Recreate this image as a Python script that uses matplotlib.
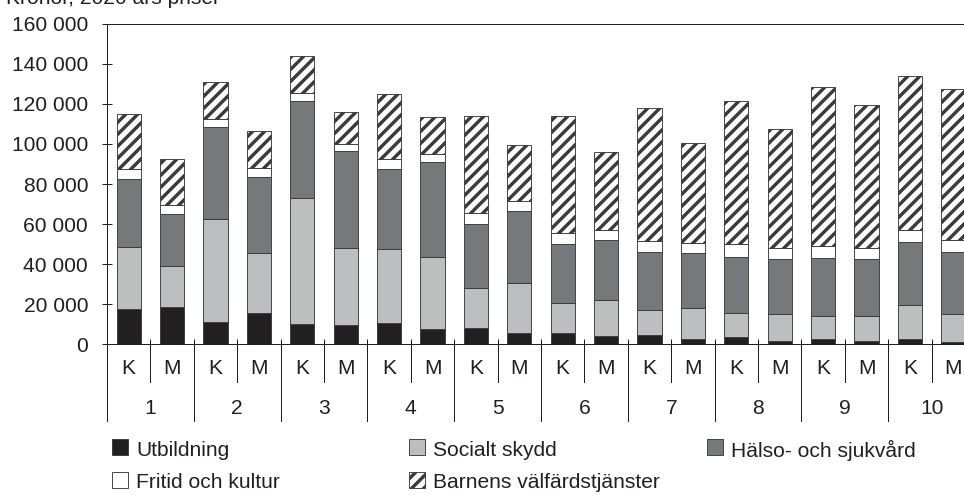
import matplotlib
matplotlib.use("Agg")
import matplotlib.pyplot as plt
from matplotlib.patches import Rectangle
from matplotlib.ticker import FuncFormatter
import matplotlib.transforms as mtransforms
import numpy as np

# values (kronor, 2020 prices)
groups = ["1", "2", "3", "4", "5", "6", "7", "8", "9", "10"]
sexes = ["K", "M"]

utbildning = [17500, 18700, 11200, 15300, 10000, 9700, 10700, 7500, 8200, 5700,
              5500, 4200, 4300, 2500, 3700, 1700, 2500, 1300, 2300, 800]
socialt_skydd = [30800, 20300, 51300, 30000, 62800, 38500, 36600, 36200, 19600, 24600,
                 14800, 17600, 12500, 15300, 11600, 13500, 11700, 12900, 17000, 14200]
halso_sjukvard = [34400, 26200, 45800, 38400, 48500, 48300, 40000, 47300, 32400, 36200,
                  29900, 30000, 29000, 27500, 28400, 27100, 28600, 28100, 31900, 31000]
fritid_kultur = [4600, 4500, 4000, 4300, 4000, 3700, 5000, 4200, 5100, 5000,
                 5300, 5200, 5700, 5400, 6100, 5700, 6400, 5900, 6000, 6200]
barnens = [27900, 22600, 18500, 18300, 18700, 15600, 32900, 18300, 48900, 28200,
           58500, 39200, 66700, 50000, 71900, 59500, 79500, 71100, 77000, 75500]

series = [
    ("Utbildning", utbildning, "#231f20", None),
    ("Socialt skydd", socialt_skydd, "#bcbec0", None),
    ("Hälso- och sjukvård", halso_sjukvard, "#77787b", None),
    ("Fritid och kultur", fritid_kultur, "#ffffff", None),
    ("Barnens välfärdstjänster", barnens, "#ffffff", "//"),
]

DPI = 72
W, H = 964, 495
FS = 21
plt.rcParams["font.family"] = ["Liberation Sans", "DejaVu Sans"]
plt.rcParams["hatch.linewidth"] = 3.4
plt.rcParams["hatch.color"] = "#1a1a1a"

fig = plt.figure(figsize=(W / DPI, H / DPI), dpi=DPI)
# axes run a little past the right edge, like the cropped original
ax = fig.add_axes([107 / W, (H - 344) / H, 868 / W, 320 / H])

x = np.arange(len(utbildning))
bottom = np.zeros(len(x))
for name, vals, color, hatch in series:
    ax.bar(x, vals, width=0.56, bottom=bottom, color=color, hatch=hatch,
           edgecolor="#3a3a3a", linewidth=0.9, zorder=2)
    bottom += np.array(vals)

axis_col = "#231f20"
ax.set_xlim(-0.5, len(x) - 0.5)
ax.set_ylim(0, 160000)
ax.set_yticks(np.arange(0, 160001, 20000))
ax.yaxis.set_major_formatter(FuncFormatter(lambda v, p: f"{v:,.0f}".replace(",", " ")))
ax.set_xticks(np.arange(-0.5, len(x), 1.0))
ax.set_xticklabels([])
ax.tick_params(axis="both", direction="inout", length=10, width=1, color=axis_col,
               labelsize=FS, labelcolor="#231f20")
ax.tick_params(axis="y", pad=14)
ax.spines["right"].set_visible(False)
for s in ["left", "top", "bottom"]:
    ax.spines[s].set_color(axis_col)
    ax.spines[s].set_linewidth(1)

# two-level category axis below the bars
trans = mtransforms.blended_transform_factory(ax.transData, ax.transAxes)
for i in range(len(x)):
    ax.text(x[i], -0.078, sexes[i % 2], transform=trans, ha="center", va="center",
            fontsize=FS, color="#231f20")
for g, name in enumerate(groups):
    ax.text(2 * g + 0.5, -0.2, name, transform=trans, ha="center", va="center",
            fontsize=FS, color="#231f20")
for b in np.arange(-0.5, len(x), 1.0):
    low = -0.24 if int(b + 0.5) % 2 == 0 else -0.119
    ax.plot([b, b], [0, low], transform=trans, color=axis_col, lw=1, clip_on=False)

# title, cut off at the top like in the reference
fig.text(6 / W, 1 - 4 / H, "Kronor, 2020 års priser", ha="left", va="baseline",
         fontsize=FS, color="#231f20")

# manual legend: two rows, three columns
leg_pos = [(112, 450), (112, 483), (409, 450), (409, 483), (707, 450)]
order = [0, 3, 1, 4, 2]
for (px, py), k in zip(leg_pos, order):
    name, vals, color, hatch = series[k]
    sq = Rectangle((px / W, 1 - (py + 5) / H), 16 / W, 16 / H, transform=fig.transFigure,
                   facecolor=color, hatch=hatch, edgecolor="#3a3a3a", linewidth=0.9)
    fig.patches.append(sq)
    fig.text((px + 24) / W, 1 - py / H, name, ha="left", va="center",
             fontsize=FS, color="#231f20")

fig.savefig("out.png", dpi=DPI)
